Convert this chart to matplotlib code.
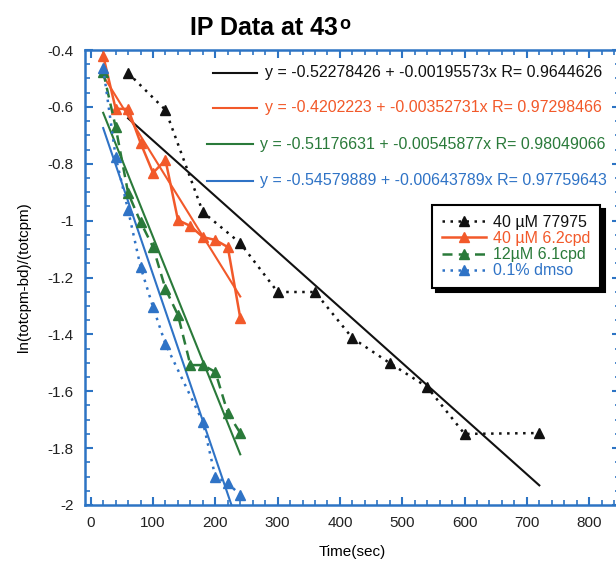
import matplotlib
matplotlib.use("Agg")
import matplotlib.pyplot as plt
from matplotlib.lines import Line2D
from matplotlib.ticker import MultipleLocator

plt.rcParams['font.family'] = ['Liberation Sans', 'DejaVu Sans']

# data
t_77975 = [60, 120, 180, 240, 300, 360, 420, 480, 540, 600, 720]
y_77975 = [-0.481, -0.611, -0.970, -1.079, -1.251, -1.251, -1.413, -1.501, -1.585, -1.750, -1.747]

t_62cpd = [20, 40, 60, 80, 100, 120, 140, 160, 180, 200, 220, 240]
y_62cpd = [-0.42, -0.607, -0.607, -0.727, -0.832, -0.787, -0.998, -1.019, -1.058, -1.068, -1.093, -1.342]

t_61cpd = [20, 40, 60, 80, 100, 120, 140, 160, 180, 200, 220, 240]
y_61cpd = [-0.477, -0.671, -0.903, -1.005, -1.093, -1.240, -1.332, -1.508, -1.508, -1.532, -1.676, -1.747]

t_dmso = [20, 40, 60, 80, 100, 120, 180, 200, 220, 240]
y_dmso = [-0.463, -0.776, -0.963, -1.163, -1.304, -1.434, -1.708, -1.901, -1.923, -1.965]

labels = ["40 \u00b5M 77975", "40 \u00b5M 6.2cpd", "12\u00b5M 6.1cpd", "0.1% dmso"]
# fit coefficients (intercept, slope, R) as printed
fits = [(-0.52278426, -0.00195573, "0.9644626"),
        (-0.4202223, -0.00352731, "0.97298466"),
        (-0.51176631, -0.00545877, "0.98049066"),
        (-0.54579889, -0.00643789, "0.97759643")]

BLACK = "#111111"
ORANGE = "#f2592a"
GREEN = "#2a7a3a"
BLUE = "#2f73c6"
AXBLUE = "#2d74c4"

W, H = 616, 563
fig = plt.figure(figsize=(W / 100, H / 100), dpi=100)
ax = fig.add_axes([84.5 / W, 58 / H, 535.8 / W, 455 / H])

series = [
    (t_77975, y_77975, BLACK, (0, (1, 2.2))),
    (t_62cpd, y_62cpd, ORANGE, "-"),
    (t_61cpd, y_61cpd, GREEN, (0, (4, 2.5))),
    (t_dmso, y_dmso, BLUE, (0, (1, 2.2))),
]

handles = []
for (t, y, c, ls), lab, (b0, b1, r) in zip(series, labels, fits):
    h, = ax.plot(t, y, color=c, ls=ls, lw=1.8, marker="^", ms=7.5,
                 markeredgecolor=c, markerfacecolor=c, label=lab, zorder=3)
    handles.append(h)
    xs = [t[0], t[-1]]
    ax.plot(xs, [b0 + b1 * x for x in xs], color=c, lw=1.5, zorder=2)

ax.set_xlim(-10, 850)
ax.set_ylim(-2, -0.4)
ax.xaxis.set_major_locator(MultipleLocator(100))
ax.xaxis.set_minor_locator(MultipleLocator(20))
ax.yaxis.set_major_locator(MultipleLocator(0.2))
ax.yaxis.set_minor_locator(MultipleLocator(0.05))
ax.yaxis.set_major_formatter(plt.FuncFormatter(lambda v, p: f"{v:g}"))
ax.tick_params(which="both", direction="in", top=True, right=True,
               color=AXBLUE, labelsize=11, labelcolor="#222222")
ax.tick_params(which="major", length=6, width=1.5, pad=8)
ax.tick_params(which="minor", length=3.5, width=1.2)
for s in ax.spines.values():
    s.set_color(AXBLUE)
    s.set_linewidth(1.8)

ax.set_xlabel("Time(sec)", fontsize=11, labelpad=11)
ax.set_ylabel("ln(totcpm-bd)/(totcpm)", fontsize=11, labelpad=12)

# title with superscript o
tt = fig.text(190 / W, 1 - 28 / H, "IP Data at 43", fontsize=18,
              fontweight="bold", ha="left", va="center")
ax.annotate("o", xy=(1, 1), xycoords=tt, xytext=(1, 0),
            textcoords="offset points", fontsize=13, fontweight="bold",
            ha="left", va="top")

# fit equations
rows = [(73, 213, 257, 265), (108, 213, 257, 265),
        (144, 207, 253, 260), (181, 207, 253, 260)]
for (py, x0, x1, xt), (b0, b1, r), (_, _, c, _) in zip(rows, fits, series):
    fy = 1 - py / H
    fig.add_artist(Line2D([x0 / W, x1 / W], [fy, fy], color=c, lw=1.5,
                          transform=fig.transFigure))
    txt = f"y = {b0:.8g} + {b1:.6g}x R= {r}"
    fig.text(xt / W, fy, txt, color=c, fontsize=11.5, ha="left", va="center")

leg = ax.legend(handles=handles, loc="upper left",
                bbox_to_anchor=(432 / W, 1 - 205 / H),
                bbox_transform=fig.transFigure, fontsize=11.5,
                frameon=True, fancybox=False, borderaxespad=0,
                handlelength=2.8, handletextpad=0.45, labelspacing=0.08,
                borderpad=0.6, numpoints=1, markerscale=0.9,
                shadow={"ox": 3, "oy": -3, "color": "black", "alpha": 1})
leg.get_frame().set_edgecolor("black")
leg.get_frame().set_linewidth(1.5)
for txt, (_, _, c, _) in zip(leg.get_texts(), series):
    txt.set_color(c)

fig.savefig("out.png", dpi=100)
